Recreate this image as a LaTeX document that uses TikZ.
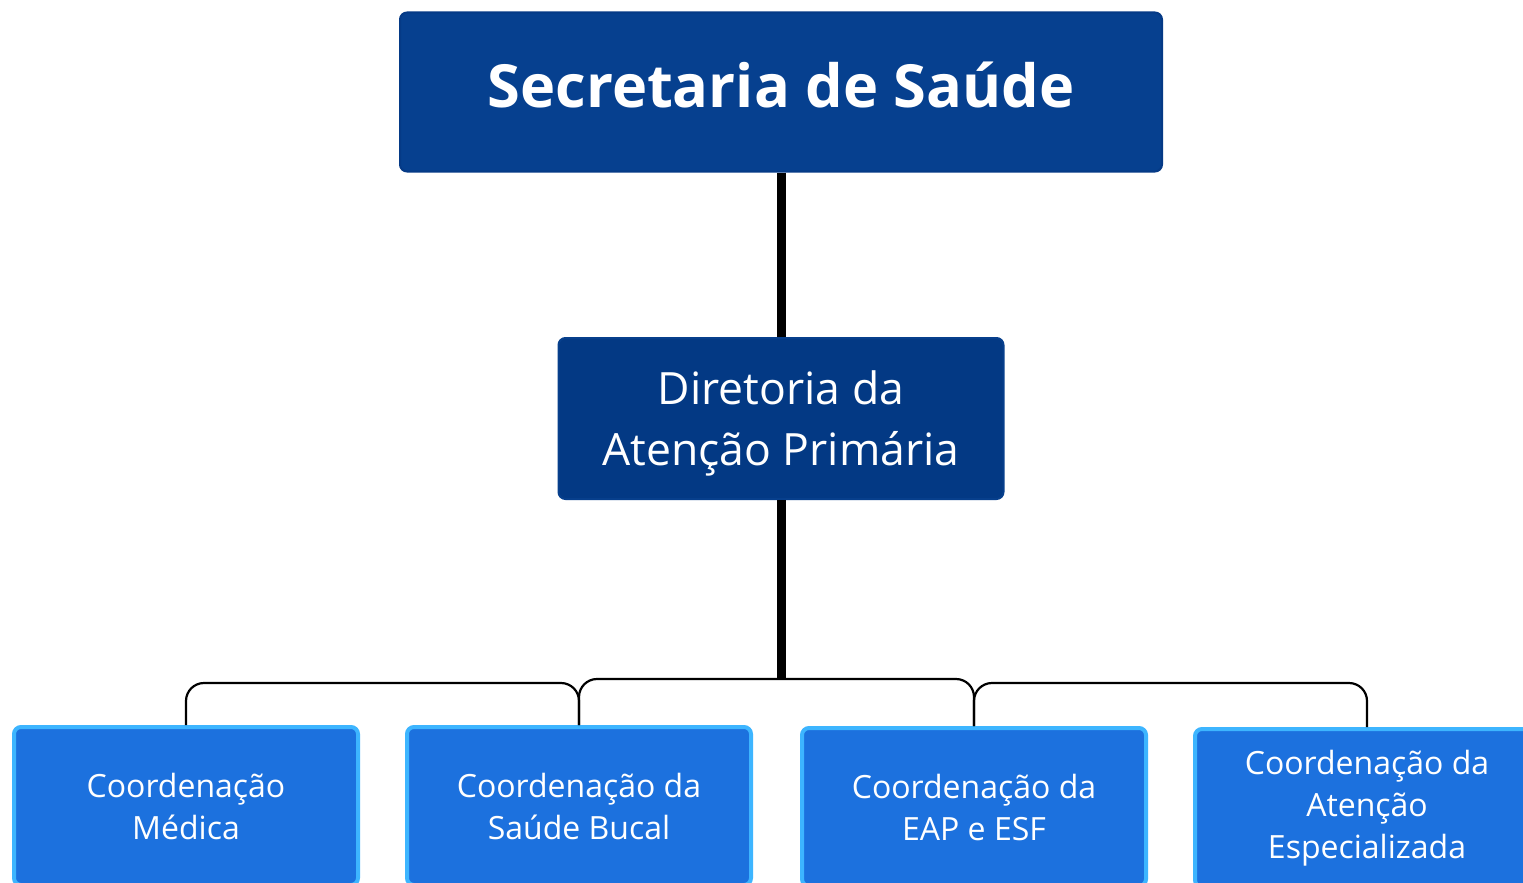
\documentclass[tikz,border=0pt]{standalone}
\usepackage{fontspec}
\setmainfont{Open Sans}
\usepackage{tikz}

\definecolor{secblue}{HTML}{06408F}
\definecolor{secline}{HTML}{053A86}
\definecolor{dirblue}{HTML}{033984}
\definecolor{dirline}{HTML}{073F8C}
\definecolor{coordblue}{HTML}{1C71DE}
\definecolor{coordline}{HTML}{3DB5FF}

\tikzset{
  secbox/.style={draw=secline,line width=2pt,fill=secblue,rounded corners=7pt,
    text=white,minimum width=762pt,minimum height=159pt,
    text height=40pt,text depth=10pt,
    font=\bfseries\fontsize{59.5}{70}\selectfont},
  dirbox/.style={draw=dirline,line width=2pt,fill=dirblue,rounded corners=7pt,
    text=white,minimum width=445pt,minimum height=161pt,align=center,
    font=\fontsize{44.5}{61}\selectfont},
  coordbox/.style={draw=coordline,line width=4pt,fill=coordblue,rounded corners=7pt,
    text=white,minimum width=344pt,minimum height=158pt,align=center,
    font=\fontsize{32}{42}\selectfont},
  trunk/.style={line width=9pt},
  bracket/.style={line width=2.2pt,rounded corners=18pt}
}

\begin{document}
\begin{tikzpicture}[x=1pt,y=-1pt]
\useasboundingbox[fill=white](0,0) rectangle (1523,883);
% boxes
\node[secbox](sec) at (781,92){Secretaria de Saúde};
\node[dirbox](dir) at (781,418.5){\strut Diretoria da\\Atenção Primária};
\node[coordbox](med) at (186,806){Coordenação\\Médica};
\node[coordbox](bucal) at (579,806){Coordenação da\\Saúde Bucal};
\node[coordbox](esf) at (974,807){Coordenação da\\EAP e ESF};
\node[coordbox](esp) at (1367,808){Coordenação da\\Atenção\\Especializada};
\coordinate (hub) at (781,679);
% connectors
\draw[trunk](sec.south)--(dir.north);
\draw[trunk](dir.south)--(hub);
\draw[bracket](med.north)|-(bucal.north|-0,683)--(bucal.north);
\draw[bracket](bucal.north)|-(esf.north|-hub)--(esf.north);
\draw[bracket](esf.north)|-(esp.north|-0,683)--(esp.north);
\end{tikzpicture}
\end{document}
